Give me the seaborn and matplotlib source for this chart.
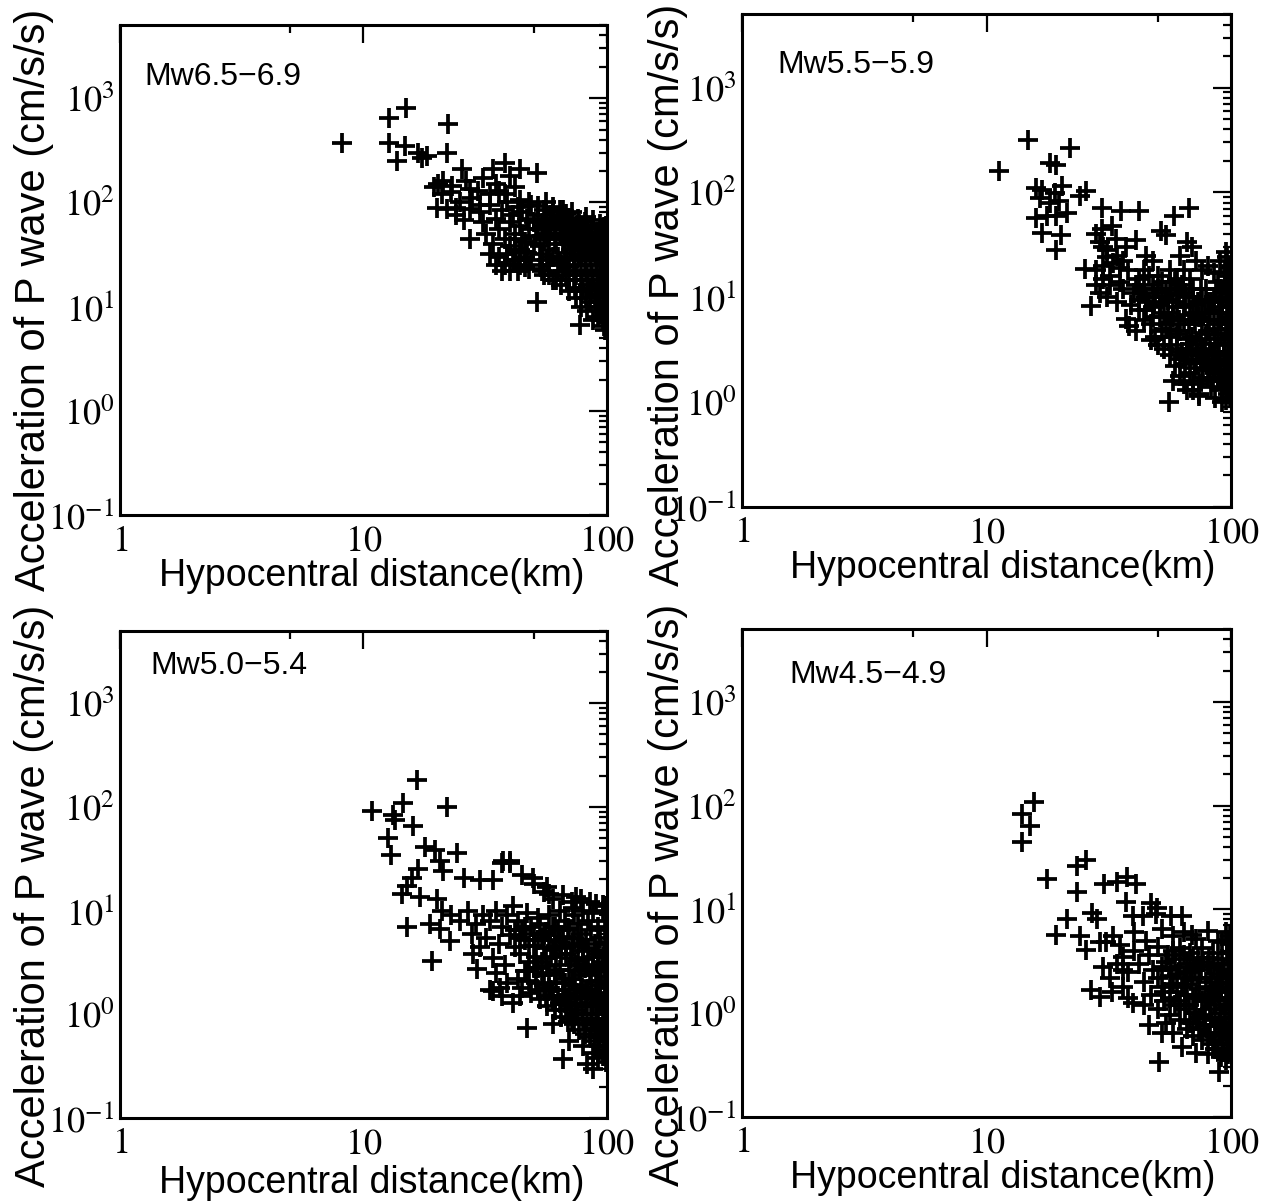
import matplotlib
matplotlib.use("Agg")
import matplotlib.pyplot as plt
import matplotlib.ticker as mticker
import numpy as np
import pandas as pd
import seaborn as sns

# ---------------------------------------------------------------------------
# Peak P-wave acceleration vs. hypocentral distance, one panel per Mw bin.
# Each entry: (hypocentral distance [km], acceleration [cm/s/s])
# ---------------------------------------------------------------------------
mw65_points = [
    (8.2, 370), (12.7, 640), (14.9, 800), (22.2, 560), (12.7, 375), (14.8, 345),
    (13.8, 250), (16.7, 295), (18.2, 280), (17.4, 265), (22.0, 295), (25.3, 210),
    (20.2, 150), (21.3, 160), (23.2, 145), (26.5, 160), (27.5, 135), (29.5, 130),
    (20.0, 88), (22.0, 87), (24.0, 88), (27.4, 87), (34.0, 210), (38.0, 240),
    (44.0, 210), (51.6, 190), (27.4, 45), (51.6, 11.2), (77.5, 6.7), (98, 6.0),
    (19.5, 140), (21, 120), (23, 125), (25, 100), (28, 110), (30, 95), (24, 75),
    (26, 68), (31, 170), (35, 150), (36, 130), (38, 120), (40, 180), (42, 140),
    (33, 120), (44, 105), (48, 100), (52, 92), (56, 100), (60, 90), (64, 85),
    (68, 78), (72, 80), (76, 70), (82, 72), (88, 68), (94, 62), (97, 58),
    (30, 80), (31, 65), (33, 95), (35, 70), (36, 55), (37, 85), (39, 100),
    (40, 65), (41, 75), (42, 50), (43, 90), (44, 60), (45, 80), (46, 42),
    (47, 70), (48, 55), (49, 95), (50, 65), (51, 48), (52, 75), (53, 38),
    (54, 60), (55, 85), (56, 50), (57, 70), (58, 35), (59, 55), (60, 80),
    (61, 45), (62, 62), (63, 30), (64, 50), (65, 72), (66, 40), (67, 58),
    (68, 28), (69, 45), (70, 65), (71, 35), (72, 52), (73, 25), (74, 42),
    (75, 60), (76, 30), (77, 48), (78, 22), (79, 38), (80, 55), (81, 28),
    (82, 45), (83, 20), (84, 35), (85, 50), (86, 25), (87, 40), (88, 18),
    (89, 32), (90, 45), (91, 22), (92, 36), (93, 15), (94, 28), (95, 42),
    (96, 20), (97, 33), (98, 13), (99, 25),
    (34, 40), (36, 30), (38, 25), (40, 22), (41, 28), (43, 22), (44, 25),
    (46, 24), (48, 23), (42, 35), (39, 32),
    (55, 20), (60, 18), (65, 16), (70, 14), (75, 12), (80, 15), (85, 11),
    (90, 10), (95, 9), (97, 12), (92, 8), (88, 7.5), (83, 9), (78, 10),
    (73, 18), (68, 20), (63, 22), (58, 25),
    (96, 55), (98, 45), (99, 35), (97, 27), (99, 18), (95, 16), (99, 10),
    (98, 7.5), (97, 6.5),
    (45, 45), (47, 33), (49, 28), (50, 40), (52, 55), (53, 25), (54, 32),
    (55, 45), (56, 65), (57, 28), (58, 48), (59, 75), (60, 30), (61, 60),
    (62, 40), (63, 70), (64, 26), (65, 55), (66, 85), (67, 33), (68, 50),
    (69, 62), (70, 24), (71, 42), (72, 70), (73, 32), (74, 55), (75, 20),
    (76, 45), (77, 62), (78, 30), (79, 18), (80, 40), (81, 65), (82, 22),
    (83, 48), (84, 16), (85, 30), (86, 58), (87, 20), (88, 40), (89, 13),
    (90, 28), (91, 52), (92, 17), (93, 38), (94, 11), (95, 22), (96, 45),
    (97, 14), (98, 30), (99, 40), (99, 14), (98, 22), (99, 50), (99, 60),
    (97, 9), (99, 8), (96, 7.5), (93, 10), (90, 13), (86, 14), (82, 12),
    (78, 14), (74, 15), (70, 18), (66, 22), (62, 18), (58, 20), (54, 22),
    (32, 50), (33, 32), (35, 25), (37, 22), (38, 45), (40, 38), (42, 28),
    (44, 35), (46, 30),
]

mw55_points = [
    (11.3, 160), (14.8, 317), (22, 266), (18.2, 191), (19.3, 183), (16, 110),
    (16.9, 105), (19, 98), (20.4, 115), (24, 92), (25.6, 103), (16.5, 88),
    (18.1, 79), (19.8, 82), (21.4, 63), (16, 57), (17.6, 59), (19.3, 59),
    (16.9, 41), (20.2, 39), (19.3, 28),
    (29.7, 71), (35.6, 66), (42, 66), (58.5, 60), (67.4, 71), (51.8, 43),
    (54.3, 39), (29.7, 45), (32.6, 48), (29, 34), (33.8, 36), (40.8, 35),
    (66, 34), (69, 30), (25.2, 18.8), (26.8, 8.3), (38.2, 5.3), (37.3, 6.2),
    (55.6, 1.0), (61.5, 1.77), (74, 1.14), (95, 27), (94, 17.6),
    (31, 28), (34, 25), (37, 30), (45, 25), (48, 22), (62, 25), (72, 22),
    (76, 18), (80, 20), (85, 17), (88, 14), (90, 22), (44, 18), (50, 16),
    (56, 14), (60, 12), (64, 18), (68, 15), (30, 20), (32, 16), (35, 14),
    (38, 18), (41, 13), (43, 11), (46, 9), (28, 13), (29, 11), (31, 10),
    (34, 9), (36, 12), (39, 8.5), (42, 7.5), (45, 10), (48, 8), (52, 10),
    (55, 7), (58, 9), (61, 6), (64, 8), (67, 5.5), (70, 7), (73, 9), (76, 6),
    (79, 4.5), (82, 7), (85, 5), (88, 3.5), (91, 6), (94, 4), (97, 8), (99, 5),
    (98, 3), (96, 2.2), (93, 2.8), (90, 1.9), (87, 2.5), (84, 3), (81, 2.2),
    (78, 3.2), (75, 2.5), (72, 3.8), (69, 2.8), (66, 4), (63, 3), (60, 4.5),
    (57, 3.5), (54, 5), (51, 6.5), (49, 4.2), (47, 5.5), (44, 6), (41, 4.8),
    (40, 11), (50, 12), (56, 18), (60, 15), (65, 11), (70, 10), (75, 12),
    (80, 9), (85, 10), (90, 8), (95, 11), (99, 13), (97, 16), (99, 20),
    (99, 9), (99, 7), (98, 6), (97, 4.5), (99, 3.6), (99, 2.5), (98, 1.8),
    (99, 1.4), (97, 1.2), (95, 1.5), (92, 1.3), (89, 1.6), (86, 1.9),
    (83, 1.4), (80, 1.7), (77, 2), (74, 1.5), (71, 2.1), (68, 1.9), (65, 2.3),
    (62, 2.6), (59, 2.2), (56, 2.8), (53, 3.2), (50, 3.5), (47, 3.9),
    (64, 1.5), (58, 1.6), (70, 1.3), (86, 1.1), (92, 1.0), (95, 1.05),
    (99, 1.1), (28, 40), (30, 30), (31, 24), (33, 21), (28, 18), (30, 15),
    (32, 13), (35, 19), (36, 22), (96, 24), (98, 19), (95, 14), (91, 12),
    (97, 10),
    (42, 15), (44, 12), (46, 16), (48, 13), (49, 10), (51, 8.5), (52, 14),
    (53, 7), (54, 11), (55, 9.5), (56, 5.5), (57, 12), (58, 6.5), (59, 14),
    (60, 8), (61, 10.5), (62, 4.8), (63, 13), (64, 6), (65, 8.5), (66, 3.2),
    (67, 10), (68, 6.8), (69, 4.2), (70, 12), (71, 5.5), (72, 8.5), (73, 2.8),
    (74, 6.5), (75, 4), (76, 9.5), (77, 3), (78, 7), (79, 12), (80, 4.8),
    (81, 6), (82, 3.6), (83, 9), (84, 2.4), (85, 7.5), (86, 4), (87, 12),
    (88, 5.5), (89, 2.8), (90, 9.5), (91, 4.5), (92, 7), (93, 3.6), (94, 13),
    (95, 5.5), (96, 8.5), (97, 3), (98, 11), (99, 6), (99, 4.2), (97, 6.5),
    (95, 2.6), (92, 1.7), (88, 2), (84, 1.6), (80, 2.6), (76, 1.7), (72, 2.4),
    (68, 3.6), (64, 2.6), (60, 3.2), (56, 4.2), (52, 4.8), (48, 6.5),
    (45, 7.5), (42, 9.5), (97, 2), (99, 1.7), (94, 2.2), (90, 2.4), (86, 2.8),
    (82, 2.1), (78, 2.4), (74, 1.2), (70, 1.6), (66, 1.3),
]

mw50_points = [
    (10.8, 92), (16.6, 180), (14.5, 110), (13.2, 83), (13.5, 74), (16, 66),
    (22, 99), (12.6, 50), (13, 34), (17.9, 41), (19.6, 38), (24.2, 36),
    (20.6, 30), (21.2, 24), (16.7, 25), (15.8, 20.4), (15.1, 17.4), (14.4, 14.6),
    (17, 13.4), (20, 13), (15.1, 6.9), (19.1, 3.3), (37.4, 30), (40, 29),
    (49.7, 20.4), (26, 20.8), (30, 19.5), (34, 19.5), (57, 16.7), (58, 14.6),
    (75, 13.4), (72.5, 10.7), (96, 11.2), (18.8, 7.5), (20.6, 6.7), (22.6, 5.1),
    (28.2, 3.85), (29.2, 2.75), (34, 1.69), (36.4, 1.8), (47, 0.74), (66, 0.37),
    (83, 0.33), (88, 0.3),
    (21, 10), (23, 9), (25, 8), (27, 10), (29, 7.5), (31, 9), (33, 8), (35, 10),
    (37, 7), (39, 9), (41, 11), (43, 8), (45, 6.5), (47, 9.5), (49, 7),
    (52, 8.5), (55, 6), (58, 9), (61, 7), (64, 10), (67, 8), (70, 6.5), (73, 9),
    (76, 7.5), (80, 10), (84, 8), (88, 9.5), (92, 7), (96, 10), (99, 11), (99, 8),
    (42, 4.5), (44, 3.8), (46, 5.2), (48, 3.2), (50, 4.6), (52, 2.8), (54, 5.5),
    (56, 3.5), (58, 2.5), (60, 4.2), (62, 3), (64, 5), (66, 2.2), (68, 3.8),
    (70, 2.7), (72, 4.6), (74, 1.9), (76, 3.3), (78, 2.4), (80, 4.1), (82, 1.7),
    (84, 3), (86, 2.1), (88, 3.6), (90, 1.5), (92, 2.6), (94, 1.9), (96, 3.2),
    (98, 1.4), (99, 2.3),
    (43, 2.2), (45, 1.8), (47, 2.6), (49, 1.6), (51, 2), (53, 1.4), (55, 1.9),
    (57, 1.2), (59, 1.7), (61, 1.1), (63, 1.5), (65, 0.95), (67, 1.3),
    (69, 0.85), (71, 1.2), (73, 0.8), (75, 1.1), (77, 0.7), (79, 1), (81, 0.65),
    (83, 0.9), (85, 0.6), (87, 0.85), (89, 0.55), (91, 0.8), (93, 0.5),
    (95, 0.75), (97, 0.45), (99, 0.65),
    (96, 0.4), (92, 0.38), (88, 0.42), (99, 0.35), (94, 0.6), (90, 1.0),
    (86, 1.3), (82, 1.2), (78, 1.5), (74, 1.3), (70, 1.7), (66, 1.5), (62, 2),
    (58, 1.8), (54, 2.4), (50, 2.8),
    (99, 5), (98, 6.5), (97, 4), (99, 3.5), (98, 2.8), (99, 1.8), (98, 1.1),
    (99, 0.9), (97, 0.55),
    (28, 6), (30, 4.5), (32, 5.5), (34, 3.5), (36, 4.8), (38, 3), (40, 5.8),
    (35, 2.5), (37, 1.5), (39, 2), (41, 1.3), (33, 1.7),
    (40, 30), (37, 29), (45, 22), (50, 18), (55, 15), (60, 13), (66, 14),
    (72, 12), (78, 13), (85, 12), (90, 11.5),
    (42, 6.5), (44, 5.5), (46, 7), (48, 4.6), (50, 6), (51, 3.6), (52, 5.2),
    (53, 7.5), (54, 3.2), (55, 4.4), (56, 6.2), (57, 2.9), (58, 5.2), (59, 3.6),
    (60, 7), (61, 2.4), (62, 4.6), (63, 6.5), (64, 2.7), (65, 3.8), (66, 5.6),
    (67, 2), (68, 4.4), (69, 6.8), (70, 1.4), (71, 3.5), (72, 2.2), (73, 5.4),
    (74, 3), (75, 1.6), (76, 4.8), (77, 2.6), (78, 6), (79, 1.8), (80, 3.4),
    (81, 2.8), (82, 5.2), (83, 1.4), (84, 4.4), (85, 2.4), (86, 6.5), (87, 1.7),
    (88, 2.9), (89, 4.8), (90, 2.1), (91, 1.2), (92, 3.8), (93, 1.6), (94, 5.4),
    (95, 2.6), (96, 1.2), (97, 3.6), (98, 2), (99, 4.2), (99, 2.8), (99, 1.3),
    (98, 0.8), (96, 0.9), (94, 1.3), (92, 1.0), (90, 0.7), (88, 1.2), (86, 0.8),
    (84, 1.7), (80, 0.9), (76, 1.0), (72, 0.9), (68, 1.1), (64, 1.3), (60, 1.4),
    (56, 1.5), (52, 1.7), (48, 2.1), (46, 2.6), (44, 1.5), (60, 0.8), (70, 0.55),
    (80, 0.5), (92, 0.6), (99, 0.5), (98, 0.42),
]

mw45_points = [
    (15.7, 108), (13.9, 83), (15, 63), (14, 45), (25.6, 30), (23.5, 26),
    (17.7, 19.5), (23.5, 14.6), (30.3, 17.5), (34.2, 18.2), (37.6, 20.4),
    (40.9, 17.5), (37.3, 11.9), (47, 11.6), (49.9, 10.4), (27, 9.3), (28.3, 8),
    (21.4, 8), (19.3, 5.7), (24, 5.5), (25.6, 4.1), (29, 4.8), (30.8, 4.8),
    (39.5, 8.6), (43.4, 8.6), (49.2, 9), (57, 8.6), (63, 8.6), (69, 5.7),
    (92, 4.8), (96, 5.1), (26.8, 1.69), (29, 1.44), (32.6, 1.6), (39.5, 1.26),
    (46, 0.77), (52.3, 0.65), (50.9, 0.34), (89, 0.27), (63, 0.47), (72, 0.41),
    (36, 2.6),
    (36, 3.5), (38, 2.5), (40, 4), (42, 3), (44, 2), (46, 3.6), (48, 2.6),
    (50, 4.3), (52, 1.8), (54, 3.1), (56, 2.3), (58, 4), (60, 1.6), (62, 2.8),
    (64, 3.6), (66, 1.9), (68, 2.5), (70, 3.3), (72, 1.5), (74, 2.2), (76, 4.2),
    (78, 1.3), (80, 2.9), (82, 1.8), (84, 3.8), (86, 1.2), (88, 2.4), (90, 1.6),
    (92, 3.3), (94, 1.1), (96, 2), (98, 1.4), (99, 3),
    (44, 1.2), (47, 1.5), (50, 1.1), (53, 1.3), (56, 0.95), (59, 1.2),
    (62, 0.85), (65, 1.1), (68, 0.8), (71, 1), (74, 0.7), (77, 0.95), (80, 0.65),
    (83, 0.9), (86, 0.6), (89, 0.8), (92, 0.55), (95, 0.75), (98, 0.5),
    (99, 0.7), (97, 0.4), (93, 0.42), (88, 0.45), (84, 0.5), (76, 0.55),
    (70, 0.6),
    (99, 4.6), (98, 3.8), (97, 2.6), (99, 2.2), (99, 1.7), (98, 1.1), (99, 0.9),
    (97, 0.62), (99, 0.45),
    (40, 6), (45, 5), (52, 6.5), (58, 5.5), (64, 6), (72, 5.2), (80, 6.2),
    (88, 5), (95, 6), (99, 5.5),
    (30, 2.8), (32, 2.2), (34, 3), (36, 1.8), (38, 1.4), (33, 5.5), (35, 4.5),
    (50, 2.2), (52, 2.8), (53, 1.6), (55, 3.6), (56, 1.4), (57, 2.6), (58, 1.9),
    (59, 3.3), (60, 2.4), (61, 1.2), (62, 4.2), (63, 1.8), (64, 2.2), (65, 1.5),
    (66, 3), (67, 1.2), (68, 3.8), (69, 2.1), (70, 1.4), (71, 2.7), (72, 1),
    (73, 3.4), (74, 1.7), (75, 2.6), (76, 1.3), (77, 3.1), (78, 0.9), (79, 2),
    (80, 1.4), (81, 3.4), (82, 1.1), (83, 2.2), (84, 1.5), (85, 2.8),
    (86, 0.85), (87, 1.7), (88, 3), (89, 1.3), (90, 2.2), (91, 1), (92, 1.9),
    (93, 2.6), (94, 0.7), (95, 1.4), (96, 3.8), (97, 1.8), (98, 2.4), (99, 1.2),
    (98, 0.8), (96, 0.55), (94, 0.9), (90, 0.65), (86, 0.45), (82, 0.6),
    (78, 0.75), (74, 0.9), (70, 0.8), (66, 0.7), (62, 1.3), (58, 0.65),
    (54, 0.8), (91, 0.38), (95, 0.35), (80, 0.4),
]

panel_labels = ["Mw6.5\u22126.9", "Mw5.5\u22125.9", "Mw5.0\u22125.4", "Mw4.5\u22124.9"]
panel_data = [mw65_points, mw55_points, mw50_points, mw45_points]

x_major = [1, 10, 100]
x_major_labels = ["$1$", "$10$", "$100$"]
x_minor = [5, 50]
y_major = [0.1, 1, 10, 100, 1000]
y_major_labels = ["$10^{-1}$", "$10^{0}$", "$10^{1}$", "$10^{2}$", "$10^{3}$"]

x_title = "Hypocentral distance(km)"
y_title = "Acceleration of P wave (cm/s/s)"

sns.set_theme(style="white")
plt.rcParams["font.family"] = ["Liberation Sans", "DejaVu Sans"]
plt.rcParams["mathtext.fontset"] = "stix"

fig = plt.figure(figsize=(12.68, 12.01), dpi=100)

# [left, bottom, width, height] in figure fraction
rects = [
    [0.0946, 0.571, 0.384, 0.408],
    [0.585, 0.578, 0.386, 0.410],
    [0.0946, 0.069, 0.384, 0.406],
    [0.585, 0.070, 0.386, 0.406],
]
label_pos = [(0.051, 0.894), (0.073, 0.898), (0.062, 0.928), (0.098, 0.907)]
ylabel_xy = [(-0.135, 0.44), (-0.110, 0.43), (-0.135, 0.455), (-0.110, 0.455)]
xlabel_xy = [(0.517, -0.087), (0.533, -0.088), (0.517, -0.096), (0.533, -0.089)]

for i, (rect, pts, lab) in enumerate(zip(rects, panel_data, panel_labels)):
    ax = fig.add_axes(rect)
    ax.set_xscale("log")
    ax.set_yscale("log")
    df = pd.DataFrame(pts, columns=["distance", "acceleration"])
    sns.scatterplot(data=df, x="distance", y="acceleration", marker="+",
                    s=210, linewidth=2.7, color="black", ax=ax, legend=False)
    ax.set_xlim(1, 100)
    ax.set_ylim(0.1, 5000)

    ax.xaxis.set_major_locator(mticker.FixedLocator(x_major))
    ax.xaxis.set_major_formatter(mticker.FixedFormatter(x_major_labels))
    ax.xaxis.set_minor_locator(mticker.FixedLocator(x_minor))
    ax.xaxis.set_minor_formatter(mticker.NullFormatter())
    ax.yaxis.set_major_locator(mticker.FixedLocator(y_major))
    ax.yaxis.set_major_formatter(mticker.FixedFormatter(y_major_labels))
    ax.yaxis.set_minor_locator(mticker.LogLocator(base=10, subs=np.arange(2, 10), numticks=30))
    ax.yaxis.set_minor_formatter(mticker.NullFormatter())

    ax.tick_params(which="both", direction="in", top=True, right=True,
                   color="black", width=1.6)
    ax.tick_params(which="major", length=13, labelsize=26, labelcolor="black")
    ax.tick_params(which="minor", length=6)
    ax.tick_params(axis="x", which="major", pad=6)
    ax.tick_params(axis="y", which="major", pad=4)
    for sp in ax.spines.values():
        sp.set_linewidth(2.2)
        sp.set_color("black")

    ax.set_xlabel(x_title, fontsize=27, color="black")
    ax.set_ylabel(y_title, fontsize=30, color="black")
    ax.xaxis.set_label_coords(*xlabel_xy[i])
    ax.yaxis.set_label_coords(*ylabel_xy[i])

    ax.text(label_pos[i][0], label_pos[i][1], lab, transform=ax.transAxes,
            fontsize=23, ha="left", va="center", color="black")

fig.savefig("out.png", dpi=100, facecolor="white")
